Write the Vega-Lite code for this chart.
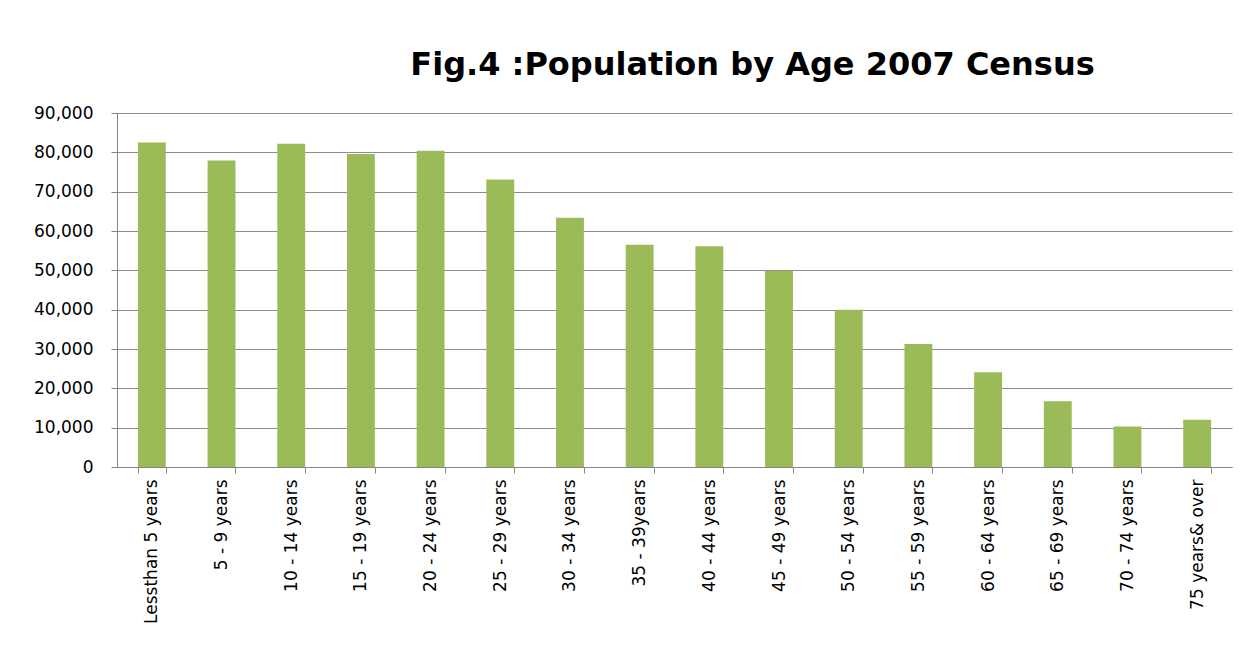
{
  "$schema": "https://vega.github.io/schema/vega-lite/v6.json",
  "autosize": {"type": "none"},
  "width": 1115,
  "height": 354,
  "padding": {"left": 117, "top": 113, "right": 11, "bottom": 186},
  "background": "white",
  "title": {
    "text": "Fig.4 :Population by Age 2007 Census",
    "font": "DejaVu Sans",
    "fontSize": 32,
    "fontWeight": "bold",
    "color": "#000000",
    "anchor": "middle",
    "dx": 78,
    "offset": 22
  },
  "data": {
    "values": [
      {"age": "Lessthan 5 years", "population": 82500},
      {"age": "5 - 9 years", "population": 77900},
      {"age": "10 - 14 years", "population": 82200},
      {"age": "15 - 19 years", "population": 79600},
      {"age": "20 - 24 years", "population": 80400},
      {"age": "25 - 29 years", "population": 73100},
      {"age": "30 - 34 years", "population": 63400},
      {"age": "35 - 39years", "population": 56500},
      {"age": "40 - 44 years", "population": 56100},
      {"age": "45 - 49 years", "population": 49900},
      {"age": "50 - 54 years", "population": 40000},
      {"age": "55 - 59 years", "population": 31300},
      {"age": "60 - 64 years", "population": 24100},
      {"age": "65 - 69 years", "population": 16700},
      {"age": "70 - 74 years", "population": 10300},
      {"age": "75 years& over", "population": 12000}
    ]
  },
  "mark": {"type": "bar", "color": "#9BBB59"},
  "encoding": {
    "x": {
      "field": "age",
      "type": "nominal",
      "sort": null,
      "scale": {"paddingInner": 0.6, "paddingOuter": 0.3},
      "axis": {
        "title": null,
        "labelAngle": -90,
        "labelAlign": "right",
        "labelBaseline": "middle",
        "labelFont": "DejaVu Sans",
        "labelFontSize": 17,
        "labelColor": "#000000",
        "labelPadding": 6,
        "tickBand": "extent",
        "tickSize": 6,
        "tickColor": "#868686",
        "domainColor": "#868686",
        "grid": false
      }
    },
    "y": {
      "field": "population",
      "type": "quantitative",
      "scale": {"domain": [0, 90000], "nice": false},
      "axis": {
        "title": null,
        "values": [0, 10000, 20000, 30000, 40000, 50000, 60000, 70000, 80000, 90000],
        "format": ",d",
        "labelFont": "DejaVu Sans",
        "labelFontSize": 17,
        "labelColor": "#000000",
        "labelPadding": 18,
        "tickSize": 6,
        "tickColor": "#868686",
        "domainColor": "#868686",
        "grid": true,
        "gridColor": "#8c8c8c",
        "gridWidth": 1
      }
    }
  },
  "config": {"view": {"stroke": null}}
}
